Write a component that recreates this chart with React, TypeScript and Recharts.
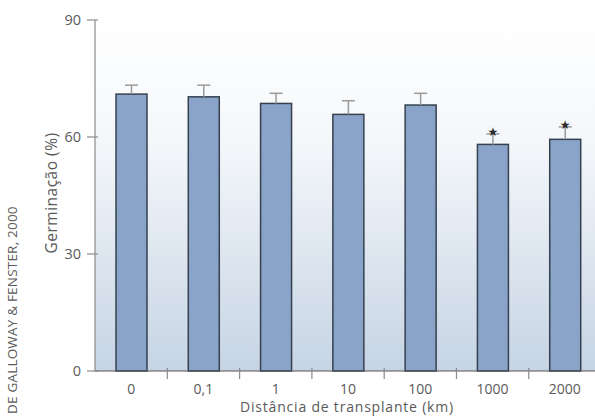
import { Bar, BarChart, CartesianGrid, XAxis, YAxis } from "recharts";

// Germinação (%) por distância de transplante.
const distancias = ["0", "0,1", "1", "10", "100", "1000", "2000"];
const germinacao = [71.0, 70.3, 68.6, 65.8, 68.2, 58.1, 59.4];
const erroSup = [2.3, 3.0, 2.6, 3.5, 3.0, 2.7, 3.2];
const significativo = [false, false, false, false, false, true, true];
const yTicks = [0, 30, 60, 90];

const FONT = "'Open Sans', Lato, sans-serif";
const TEXT = "#5a5a5a";
const AXIS = "#8a8a8a";

const data = distancias.map((label, i) => ({
  label,
  germ: germinacao[i],
  err: erroSup[i],
  star: significativo[i],
}));

function BarWithError(props: any) {
  const { x, y, width, height, payload } = props;
  // pixels per % from the bar's own scaled height
  const k = payload.germ ? height / payload.germ : 0;
  const cx = x + width / 2;
  const errY = y - payload.err * k;
  return (
    <g>
      <rect x={x} y={y} width={width} height={height} fill="#89a4c8" stroke="#35414f" strokeWidth={1.5} />
      <line x1={cx} x2={cx} y1={y} y2={errY} stroke="#9a9a9a" strokeWidth={1.5} />
      <line x1={cx - 6.5} x2={cx + 6.5} y1={errY} y2={errY} stroke="#9a9a9a" strokeWidth={1.5} />
      {payload.star && (
        <text x={cx} y={errY + 2} textAnchor="middle" fontSize={12} fill="#2a2a2a" fontFamily="DejaVu Sans">
          ★
        </text>
      )}
    </g>
  );
}

function YTick(props: any) {
  const { x, y, payload } = props;
  return (
    <g>
      <line x1={x} x2={x + 11} y1={y} y2={y} stroke={AXIS} strokeWidth={1.2} />
      <text x={x - 6} y={y} dy="0.36em" textAnchor="end" fontSize={14.5} fill={TEXT} fontFamily={FONT}>
        {payload.value}
      </text>
    </g>
  );
}

const BAND = 72.2;

function XTick(props: any) {
  const { x, y, payload, index } = props;
  return (
    <g>
      {index > 0 && (
        <line x1={x - BAND / 2} x2={x - BAND / 2} y1={y} y2={y - 11} stroke={AXIS} strokeWidth={1.2} />
      )}
      <text x={x} y={y + 10} dy="0.36em" textAnchor="middle" fontSize={14} fill={TEXT} fontFamily={FONT}>
        {payload.value}
      </text>
    </g>
  );
}

function SideLabels() {
  return (
    <g fontFamily={FONT} fill={TEXT}>
      <text transform="translate(57,193) rotate(-90)" textAnchor="middle" fontSize={15.5} letterSpacing={0.5}>
        Germinação (%)
      </text>
      <text transform="translate(17,414) rotate(-90)" textAnchor="start" fontSize={13.5} letterSpacing={0.2}>
        DE GALLOWAY &amp; FENSTER, 2000
      </text>
      <text x={347} y={412} textAnchor="middle" fontSize={14} letterSpacing={0.8}>
        Distância de transplante (km)
      </text>
    </g>
  );
}

export default function App() {
  return (
    <div style={{ position: "absolute", left: 0, top: 0, width: 595, height: 417, overflow: "hidden", background: "#fff" }}>
      <BarChart
        width={601}
        height={417}
        data={data}
        margin={{ top: 20, right: 0, bottom: 0, left: 0 }}
        barSize={31}
      >
        <defs>
          <linearGradient id="bg" x1="0" y1="0" x2="0" y2="1">
            <stop offset="0%" stopColor="#ffffff" />
            <stop offset="35%" stopColor="#f4f7fa" />
            <stop offset="100%" stopColor="#c6d4e4" />
          </linearGradient>
        </defs>
        <CartesianGrid fill="url(#bg)" stroke="none" horizontal={false} vertical={false} />
        <XAxis
          dataKey="label"
          height={46}
          axisLine={{ stroke: "#555", strokeWidth: 1.2 }}
          tickLine={false}
          tick={<XTick />}
          interval={0}
        />
        <YAxis
          width={95}
          domain={[0, 90]}
          ticks={yTicks}
          axisLine={{ stroke: AXIS, strokeWidth: 1.2 }}
          tickLine={false}
          tick={<YTick />}
          label={{ content: () => <SideLabels /> }}
        />
        <Bar dataKey="germ" shape={<BarWithError />} isAnimationActive={false} />
      </BarChart>
    </div>
  );
}
